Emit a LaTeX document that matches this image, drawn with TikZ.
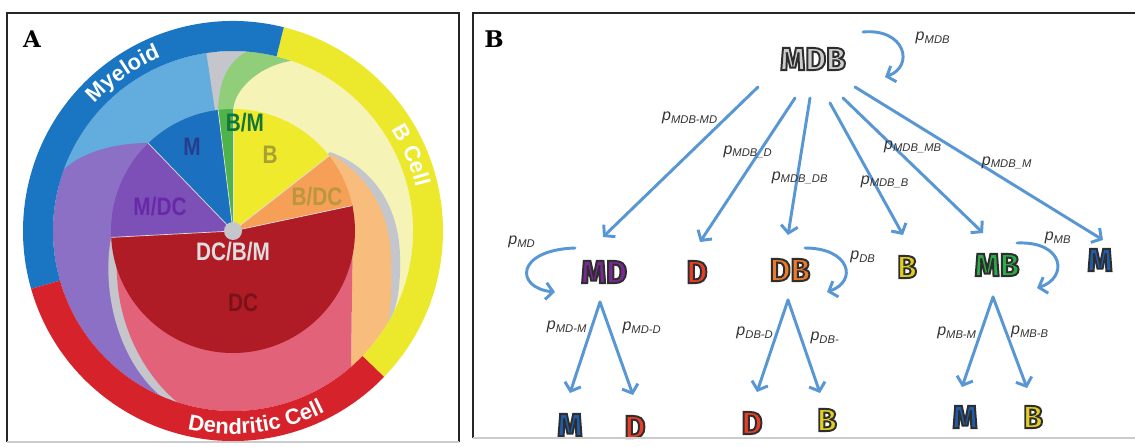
\documentclass[tikz,border=0pt]{standalone}
\usepackage{fontspec}
\setmainfont{Liberation Sans}
\setsansfont{Liberation Sans}
\newfontfamily\narrowfont[FakeStretch=0.82]{Liberation Sans}
\newfontfamily\statefont{Fira Sans}
\newfontfamily\panelfont{DejaVu Serif}
\usetikzlibrary{arrows.meta,calc,decorations.text}

% ring and ribbon colours
\definecolor{ringblue}{RGB}{26,117,194}
\definecolor{ringyellow}{RGB}{236,232,44}
\definecolor{ringred}{RGB}{214,34,42}
\definecolor{ribbonblue}{RGB}{98,172,222}
\definecolor{ribbongreen}{RGB}{144,206,122}
\definecolor{ribbonyellow}{RGB}{245,243,182}
\definecolor{ribbonorange}{RGB}{248,188,124}
\definecolor{ribbonpurple}{RGB}{140,112,198}
\definecolor{ribbonpink}{RGB}{226,98,122}
\definecolor{splitgray}{RGB}{196,198,204}
% sector colours
\definecolor{secm}{RGB}{28,112,192}
\definecolor{secbm}{RGB}{78,180,74}
\definecolor{secb}{RGB}{240,234,44}
\definecolor{secbdc}{RGB}{245,160,86}
\definecolor{secdc}{RGB}{176,28,38}
\definecolor{secmdc}{RGB}{124,80,182}
% sector label colours
\definecolor{lblm}{RGB}{40,60,140}
\definecolor{lblbm}{RGB}{16,118,58}
\definecolor{lblb}{RGB}{168,160,50}
\definecolor{lblmdc}{RGB}{104,40,170}
\definecolor{lblbdc}{RGB}{186,150,62}
\definecolor{lbldcbm}{RGB}{222,222,222}
\definecolor{lbldc}{RGB}{122,18,26}
% lineage tree colours
\definecolor{arrowblue}{RGB}{88,150,212}
\definecolor{cmdb}{RGB}{205,205,205}
\definecolor{cmd}{RGB}{122,40,150}
\definecolor{cd}{RGB}{232,62,40}
\definecolor{cdb}{RGB}{236,122,42}
\definecolor{cb}{RGB}{226,206,34}
\definecolor{cmb}{RGB}{42,170,72}
\definecolor{cm}{RGB}{32,92,172}

\newcommand{\ringfont}{\sffamily\bfseries\fontsize{15.6}{16}\selectfont}
% filled letters with a dark stroke round them
\newcommand{\celltext}[2]{{\color{#1}\special{pdf:literal direct 0.18 0.18 0.18 RG 2 Tr 1.4 w}#2\special{pdf:literal direct 0 Tr}}}
\newcommand{\prb}[1]{p\textsubscript{#1}}

\begin{document}
\begin{tikzpicture}[x=0.25mm, y=0.25mm,
    panelframe/.style={line width=1.4pt, draw=black!85},
    spoke/.style={draw=white!75!gray, line width=0.5pt},
    ringtext/.style={decorate, decoration={text along path, text align=center, text color=white}},
    pielabel/.style={font=\narrowfont\bfseries\fontsize{18}{18}\selectfont, inner sep=0pt},
    cellnode/.style={font=\statefont\bfseries\fontsize{22.7}{24}\selectfont, inner sep=0pt},
    flow/.style={draw=arrowblue, line width=2.1pt, line cap=round,
        -{Straight Barb[length=1.8mm, width=4.2mm]}},
    prob/.style={font=\sffamily\itshape\fontsize{11.4}{12}\selectfont, text=black!80, inner sep=0pt}]
    \useasboundingbox (0,0) rectangle (1135,446);

    % Panel A: lineage wheel
    \begin{scope}[shift={(233,215)}]
        % ribbons out to the ring
        \fill[ribbonblue] (0,0) -- (95:180) arc[start angle=95, end angle=165, radius=180] -- cycle;
        \fill[splitgray] (0,0) -- (98.5:180) arc[start angle=98.5, end angle=80, radius=180] -- cycle;
        \fill[ribbonyellow] (0,0) -- (0,121) .. controls (2,145) and (30,166) .. (71:180)
            arc[start angle=71, end angle=-31, radius=180]
            .. controls (163,-82) and (168,-60) .. (167,-25)
            .. controls (166,30) and (135,66) .. (97,79) -- cycle;
        \fill[splitgray] (0,0) -- (97,79) .. controls (135,66) and (166,30) .. (167,-25)
            .. controls (168,-60) and (163,-82) .. (-31:180) -- cycle;
        \fill[ribbongreen] (-15,121) .. controls (-14,150) and (-5,170) .. (85.5:180)
            arc[start angle=85.5, end angle=71, radius=180]
            .. controls (30,166) and (2,145) .. (0,121) -- cycle;
        \fill[ribbonorange] (0,0) -- (99,76) .. controls (127,60) and (156,28) .. (158,-25)
            .. controls (159,-60) and (158,-78) .. (-31:180)
            arc[start angle=-31, end angle=-49, radius=180] -- (120,26) -- cycle;
        \fill[ribbonpurple] (0,0) -- (-86,88) .. controls (-115,88) and (-150,80) .. (160:180)
            arc[start angle=160, end angle=250, radius=180] -- cycle;
        \fill[splitgray] (0,0) -- (-122,-7) .. controls (-131,-55) and (-118,-125) .. (246:180)
            arc[start angle=246, end angle=256, radius=180] -- cycle;
        \fill[ribbonpink] (0,0) -- (120,26) -- (-49:180)
            arc[start angle=-49, end angle=-108, radius=180]
            .. controls (-82,-150) and (-113,-105) .. (-116,-45)
            .. controls (-117,-25) and (-118,-15) .. (-120,-7) -- cycle;

        % inner sectors
        \fill[secm] (0,0) -- (97:122) arc[start angle=97, end angle=134, radius=122] -- cycle;
        \fill[secbm] (0,0) -- (90:122) arc[start angle=90, end angle=97, radius=122] -- cycle;
        \fill[secb] (0,0) -- (38:122) arc[start angle=38, end angle=90, radius=122] -- cycle;
        \fill[secbdc] (0,0) -- (12:122) arc[start angle=12, end angle=38, radius=122] -- cycle;
        \fill[secmdc] (0,0) -- (134:122) arc[start angle=134, end angle=183, radius=122] -- cycle;
        \fill[secdc] (0,0) -- (183:122) arc[start angle=183, end angle=372, radius=122] -- cycle;
        \foreach \a in {12,38,90,97,134,183}
            \draw[spoke] (0,0) -- (\a:122);
        \fill[splitgray] (0,0) circle[radius=9];

        % outer ring
        \fill[ringyellow] (-44:210) arc[start angle=-44, end angle=76, radius=210]
            -- (76:180) arc[start angle=76, end angle=-44, radius=180] -- cycle;
        \fill[ringblue] (76:210) arc[start angle=76, end angle=196, radius=210]
            -- (196:180) arc[start angle=196, end angle=76, radius=180] -- cycle;
        \fill[ringred] (196:210) arc[start angle=196, end angle=316, radius=210]
            -- (316:180) arc[start angle=316, end angle=196, radius=180] -- cycle;
        \path[ringtext, decoration={text={|\ringfont|Myeloid}}]
            (150:188) arc[start angle=150, end angle=100, radius=188];
        \path[ringtext, decoration={text={|\ringfont|B Cell}}]
            (48:188) arc[start angle=48, end angle=-2, radius=188];
        \path[ringtext, decoration={text={|\ringfont|Dendritic Cell}}]
            (237:203) arc[start angle=237, end angle=317, radius=203];

        % sector labels
        \node[pielabel, text=lblm] (lm) at (-41,84) {M};
        \node[pielabel, text=lblbm] (lbm) at (12,108) {B/M};
        \node[pielabel, text=lblb] (lb) at (37,76) {B};
        \node[pielabel, text=lblmdc] (lmdc) at (-73,24) {M/DC};
        \node[pielabel, text=lblbdc] (lbdc) at (84,34) {B/DC};
        \node[pielabel, text=lbldcbm] (ldcbm) at (0,-21) {DC/B/M};
        \node[pielabel, text=lbldc] (ldc) at (10,-72) {DC};
    \end{scope}

    % Panel B: lineage tree
    \node[cellnode] (mdb) at (813,387) {\celltext{cmdb}{MDB}};
    \node[cellnode] (md) at (604,174) {\celltext{cmd}{MD}};
    \node[cellnode] (d) at (697,174) {\celltext{cd}{D}};
    \node[cellnode] (db) at (790,176) {\celltext{cdb}{DB}};
    \node[cellnode] (b) at (907,179) {\celltext{cb}{B}};
    \node[cellnode] (mb) at (997,181) {\celltext{cmb}{MB}};
    \node[cellnode] (m) at (1100,186) {\celltext{cm}{M}};
    \node[cellnode] (mdm) at (570,21) {\celltext{cm}{M}};
    \node[cellnode] (mdd) at (635,19) {\celltext{cd}{D}};
    \node[cellnode] (dbd) at (752,23) {\celltext{cd}{D}};
    \node[cellnode] (dbb) at (827,26) {\celltext{cb}{B}};
    \node[cellnode] (mbm) at (965,29) {\celltext{cm}{M}};
    \node[cellnode] (mbb) at (1033,29) {\celltext{cb}{B}};

    % first split
    \draw[flow] ($(mdb)+(-55,-28)$) -- ($(md)+(-1,35)$);
    \draw[flow] ($(mdb)+(-18,-39)$) -- ($(d)+(3,30)$);
    \draw[flow] ($(mdb)+(-3,-39)$) -- ($(db)+(-2,35)$);
    \draw[flow] ($(mdb)+(17,-44)$) -- ($(b)+(-4,32)$);
    \draw[flow] ($(mdb)+(30,-39)$) -- ($(mb)+(-14,32)$);
    \draw[flow] ($(mdb)+(42,-28)$) -- ($(m)+(3,20)$);

    % self renewal
    \draw[flow] ($(mdb)+(50,27)$) .. controls ($(mdb)+(92,31)$) and ($(mdb)+(102,-7)$) .. ($(mdb)+(72,-18)$);
    \draw[flow] ($(md)+(-29,24)$) .. controls ($(md)+(-89,22)$) and ($(md)+(-89,-16)$) .. ($(md)+(-49,-20)$);
    \draw[flow] ($(db)+(15,22)$) .. controls ($(db)+(60,22)$) and ($(db)+(68,-11)$) .. ($(db)+(37,-22)$);
    \draw[flow] ($(mb)+(20,22)$) .. controls ($(mb)+(68,24)$) and ($(mb)+(71,-13)$) .. ($(mb)+(40,-23)$);

    % second split
    \draw[flow] ($(md)+(-4,-30)$) -- ($(mdm)+(0,32)$);
    \draw[flow] ($(md)+(-4,-30)$) -- ($(mdd)+(-2,32)$);
    \draw[flow] ($(db)+(-2,-30)$) -- ($(dbd)+(5,31)$);
    \draw[flow] ($(db)+(-2,-30)$) -- ($(dbb)+(-7,27)$);
    \draw[flow] ($(mb)+(-4,-32)$) -- ($(mbm)+(-3,30)$);
    \draw[flow] ($(mb)+(-4,-32)$) -- ($(mbb)+(-6,29)$);

    % probabilities
    \node[prob] (pmdb) at (933,408) {\prb{MDB}};
    \node[prob] (pmdbmd) at (690,328) {\prb{MDB-MD}};
    \node[prob] (pmdbd) at (748,294) {\prb{MDB\_D}};
    \node[prob] (pmdbdb) at (800,268) {\prb{MDB\_DB}};
    \node[prob] (pmdbb) at (885,264) {\prb{MDB\_B}};
    \node[prob] (pmdbmb) at (913,299) {\prb{MDB\_MB}};
    \node[prob] (pmdbm) at (1007,283) {\prb{MDB\_M}};
    \node[prob] (pmd) at (522,204) {\prb{MD}};
    \node[prob] (pdb) at (863,189) {\prb{DB}};
    \node[prob] (pmb) at (1058,208) {\prb{MB}};
    \node[prob] (pmdm) at (567,119) {\prb{MD-M}};
    \node[prob] (pmdd) at (642,118) {\prb{MD-D}};
    \node[prob] (pdbd) at (755,113) {\prb{DB-D}};
    \node[prob] (pdbb) at (825,108) {\prb{DB-}};
    \node[prob] (pmbm) at (957,113) {\prb{MB-M}};
    \node[prob] (pmbb) at (1030,114) {\prb{MB-B}};

    % panel frames and letters
    \draw[panelframe] (7,4) -- (7,433) -- (459,433) -- (459,4);
    \draw[panelframe, draw=black!20] (7,4) -- (459,4);
    \draw[panelframe] (473,8) -- (473,433) -- (1135,433);
    \draw[panelframe, draw=black!20] (473,8) -- (1135,8);
    \node[font=\panelfont\bfseries\fontsize{16.3}{17}\selectfont] (pa) at (32,407) {A};
    \node[font=\panelfont\bfseries\fontsize{16.3}{17}\selectfont] (pb) at (494,407) {B};
\end{tikzpicture}
\end{document}
